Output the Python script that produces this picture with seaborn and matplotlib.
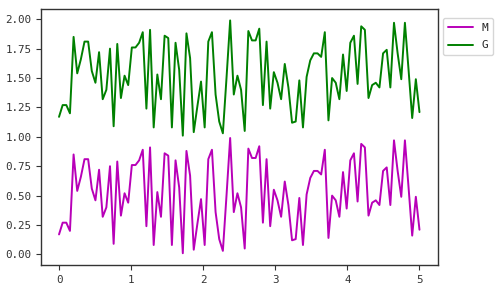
import numpy as np
import pandas as pd
import matplotlib
matplotlib.use("Agg")
import matplotlib.pyplot as plt
import seaborn as sns

x_values = np.linspace(0, 5, 100)
m_values = [
    0.17, 0.27, 0.27, 0.20, 0.85, 0.54, 0.66, 0.81, 0.81, 0.56,
    0.46, 0.72, 0.32, 0.40, 0.75, 0.09, 0.79, 0.33, 0.52, 0.44,
    0.76, 0.76, 0.80, 0.89, 0.24, 0.91, 0.08, 0.53, 0.32, 0.86,
    0.84, 0.08, 0.80, 0.57, 0.01, 0.88, 0.67, 0.04, 0.26, 0.47,
    0.08, 0.81, 0.89, 0.36, 0.13, 0.03, 0.50, 0.99, 0.36, 0.52,
    0.40, 0.05, 0.90, 0.82, 0.82, 0.92, 0.27, 0.81, 0.24, 0.55,
    0.46, 0.32, 0.62, 0.42, 0.12, 0.13, 0.48, 0.08, 0.51, 0.65,
    0.71, 0.71, 0.68, 0.89, 0.14, 0.50, 0.46, 0.32, 0.70, 0.39,
    0.80, 0.86, 0.45, 0.94, 0.91, 0.33, 0.44, 0.46, 0.42, 0.71,
    0.74, 0.42, 0.97, 0.71, 0.49, 0.97, 0.57, 0.16, 0.49, 0.21,
]
g_values = [v + 1.0 for v in m_values]
series_names = ["M", "G"]

df = pd.DataFrame({
    "x": np.concatenate([x_values, x_values]),
    "y": np.concatenate([m_values, g_values]),
    "series": [series_names[0]] * len(m_values) + [series_names[1]] * len(g_values),
})

sns.set_style("ticks")
plt.rcParams["font.family"] = ["DejaVu Sans Mono"]

fig = plt.figure(figsize=(5.0, 2.93), dpi=100)
ax = fig.add_axes([0.082, 0.096, 0.793, 0.874])
sns.lineplot(data=df, x="x", y="y", hue="series",
             palette={"M": "#b800b8", "G": "#008000"},
             linewidth=1.4, ax=ax)

ax.set_xlabel("")
ax.set_ylabel("")
ax.set_xticks([0, 1, 2, 3, 4, 5])
ax.set_yticks([0, 0.25, 0.5, 0.75, 1.0, 1.25, 1.5, 1.75, 2.0])
ax.set_yticklabels([f"{v:.2f}" for v in [0, 0.25, 0.5, 0.75, 1.0, 1.25, 1.5, 1.75, 2.0]])
ax.tick_params(labelsize=7.8, length=3.5, width=0.8, colors="#333333")
for s in ax.spines.values():
    s.set_color("#333333")
    s.set_linewidth(1.0)

leg = ax.legend(loc="upper left", bbox_to_anchor=(1.0, 0.985), fontsize=8,
                title=None, frameon=True, labelspacing=0.7, handlelength=2.3)
leg.get_frame().set_edgecolor("#cccccc")

fig.savefig("out.png", dpi=100)
